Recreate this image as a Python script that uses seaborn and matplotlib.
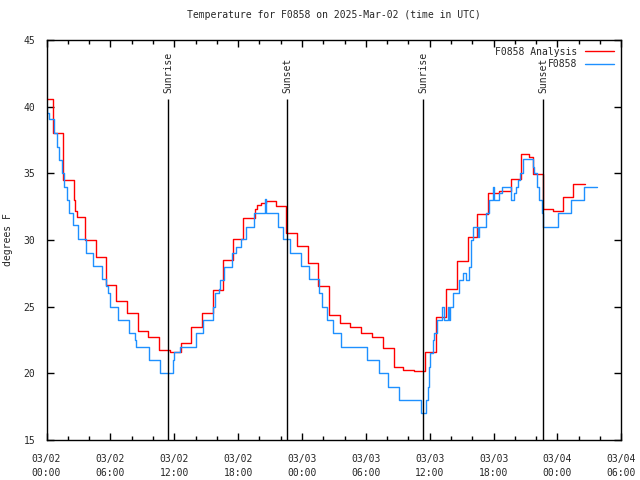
import numpy as np
import pandas as pd
import seaborn as sns
import matplotlib
matplotlib.use("Agg")
import matplotlib.pyplot as plt
from matplotlib.ticker import MultipleLocator, FuncFormatter
import datetime

# hours since 2025-03-02 00:00 UTC, values in degrees F (step starts)
analysis_hours = [0.0, 0.61, 1.57, 2.54, 2.72, 2.91, 3.66, 4.69, 5.61, 6.57, 7.56, 8.64,
                  9.58, 10.61, 11.64, 12.63, 13.62, 14.65, 15.68, 16.62, 17.56, 18.5,
                  19.62, 19.81, 20.19, 20.66, 21.6, 22.54, 23.57, 24.6, 25.54, 26.53,
                  27.61, 28.54, 29.58, 30.61, 31.64, 32.68, 33.52, 34.55, 35.59, 36.62,
                  37.56, 38.59, 39.62, 40.47, 41.5, 42.54, 43.66, 44.6, 45.35, 45.73,
                  46.62, 47.6, 48.54, 49.48, 50.61]
analysis_temp = [40.6, 38.0, 34.5, 33.0, 32.2, 31.7, 30.0, 28.7, 26.6, 25.4, 24.5, 23.2,
                 22.7, 21.75, 21.6, 22.25, 23.5, 24.5, 26.25, 28.5, 30.1, 31.65,
                 32.3, 32.6, 32.8, 32.9, 32.55, 30.5, 29.55, 28.25, 26.55, 24.4,
                 23.75, 23.5, 23.05, 22.7, 21.9, 20.45, 20.25, 20.2, 21.6, 24.2,
                 26.3, 28.4, 30.25, 31.95, 33.5, 33.65, 34.6, 36.45, 36.25, 34.95,
                 32.3, 32.2, 33.2, 34.2, 34.2]

obs_hours = [0.0, 0.05, 0.19, 0.66, 0.75, 0.97, 1.22, 1.47, 1.69, 1.97, 2.16, 2.47,
             2.98, 3.73, 4.35, 5.26, 5.63, 5.79, 5.98, 6.01, 6.76, 7.79, 8.36, 8.42,
             9.61, 10.7, 11.86, 12.02, 12.58, 14.06, 14.74, 15.62, 15.82, 16.24,
             16.34, 16.71, 17.46, 17.81, 18.28, 18.75, 19.46, 20.56, 20.59, 21.72,
             22.19, 22.88, 23.92, 24.63, 25.57, 25.92, 26.32, 26.88, 27.67, 30.08,
             31.2, 32.11, 33.15, 35.18, 35.65, 35.71, 35.87, 35.96, 36.03, 36.27,
             36.37, 36.65, 37.12, 37.37, 37.68, 37.84, 37.91, 38.15, 38.78, 39.09,
             39.41, 39.65, 39.88, 40.09, 40.5, 40.66, 41.29, 41.6, 41.97, 42.04,
             42.54, 42.79, 43.63, 43.94, 44.1, 44.32, 44.51, 44.72, 45.66, 45.82,
             46.04, 46.29, 46.54, 46.67, 48.1, 49.32, 50.52, 51.71]
obs_temp = [40.0, 39.5, 39.05, 38.55, 38.0, 37.0, 36.0, 35.0, 34.0, 33.0, 32.0, 31.1,
            30.05, 29.0, 28.05, 27.05, 26.55, 26.05, 25.5, 25.0, 24.0, 23.0, 22.5, 22.0,
            21.0, 20.0, 21.0, 21.6, 22.0, 23.0, 24.0, 25.0, 26.0, 26.3,
            27.0, 28.0, 29.0, 29.5, 30.05, 31.0, 32.0, 33.05, 32.0, 31.0,
            30.05, 29.0, 28.05, 27.05, 26.0, 25.0, 24.0, 23.0, 22.0, 21.0,
            20.0, 19.0, 18.0, 17.0, 18.0, 18.0, 19.0, 20.5, 21.5, 22.5,
            23.0, 24.0, 25.0, 24.0, 25.0, 24.0, 25.0, 26.0, 27.0, 27.5,
            27.0, 28.0, 30.0, 31.0, 30.25, 31.0, 32.0, 33.0, 34.0, 33.0,
            33.5, 34.0, 33.0, 33.5, 34.0, 34.5, 35.0, 36.05, 35.5, 35.0,
            34.0, 33.0, 32.0, 31.0, 32.0, 33.0, 34.0, 34.0]

sun_hours = [11.44, 22.6, 35.4, 46.67]
sun_labels = ["Sunrise", "Sunset", "Sunrise", "Sunset"]

base = datetime.datetime(2025, 3, 2, 0, 0)

sns.set_style("ticks")
plt.rcParams['font.family'] = ['DejaVu Sans Mono']

fig = plt.figure(figsize=(6.4, 4.8), dpi=100)
ax = fig.add_axes([46.5 / 640, 40 / 480, (621.3 - 46.5) / 640, 400 / 480])

dfa = pd.DataFrame({'hours': analysis_hours, 'temp': analysis_temp})
dfo = pd.DataFrame({'hours': obs_hours, 'temp': obs_temp})

sns.lineplot(data=dfa, x='hours', y='temp', ax=ax, color='#ff0000', lw=1.0,
             drawstyle='steps-post', label='F0858 Analysis')
sns.lineplot(data=dfo, x='hours', y='temp', ax=ax, color='#1e90ff', lw=1.0,
             drawstyle='steps-post', label='F0858')

for h, lab in zip(sun_hours, sun_labels):
    ax.vlines(h, 15, 40.6, color='black', lw=1.0)
    ax.text(h, 41.0, lab, rotation=90, ha='center', va='bottom', fontsize=7)

ax.set_xlim(0, 54)
ax.set_ylim(15, 45)
ax.xaxis.set_major_locator(MultipleLocator(6))
ax.xaxis.set_minor_locator(MultipleLocator(2))
ax.yaxis.set_major_locator(MultipleLocator(5))


def fmt_time(x, pos):
    t = base + datetime.timedelta(hours=x)
    return t.strftime('%m/%d\n%H:%M')


ax.xaxis.set_major_formatter(FuncFormatter(fmt_time))
ax.tick_params(which='both', direction='in', top=True, right=True, labelsize=7,
               color='black', width=1.0)
ax.tick_params(which='major', length=5)
ax.tick_params(axis='x', which='major', pad=10)
ax.tick_params(axis='y', which='major', pad=8)
ax.tick_params(which='minor', length=3)
for lbl in ax.get_xticklabels():
    lbl.set_linespacing(1.5)
for s in ax.spines.values():
    s.set_color('black')
    s.set_linewidth(1.0)

ax.set_xlabel('')
ax.set_ylabel('degrees F', fontsize=7, labelpad=8)
ax.set_title('Temperature for F0858 on 2025-Mar-02 (time in UTC)', fontsize=7, pad=16)

ax.legend(loc='upper right', frameon=False, markerfirst=False, fontsize=7,
          handlelength=3.0, handletextpad=0.8, labelspacing=0.25,
          borderaxespad=0.3)

plt.savefig('out.png', dpi=100)
